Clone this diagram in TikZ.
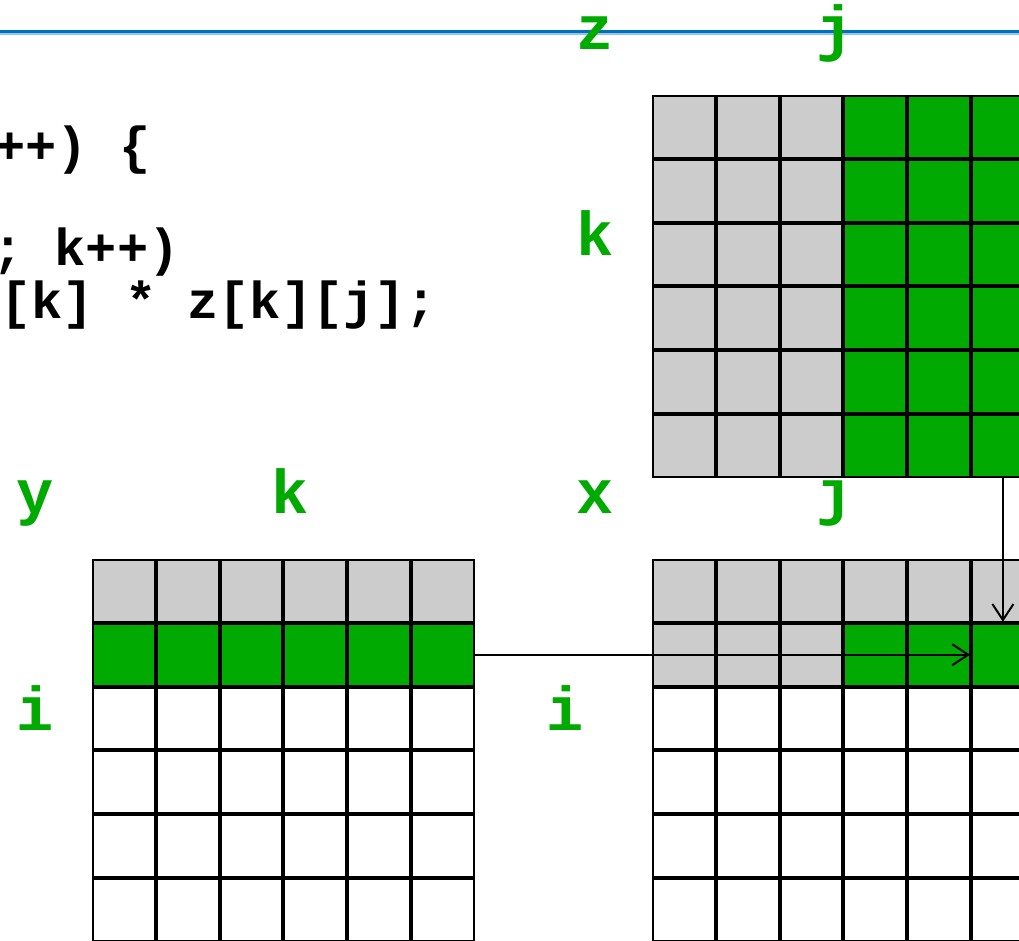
\documentclass[tikz,border=0pt]{standalone}
\usepackage{fontspec}
\setmonofont{Liberation Mono}
\usetikzlibrary{arrows.meta}
\definecolor{cellgreen}{RGB}{0,170,0}
\definecolor{cellgray}{RGB}{204,204,204}
\definecolor{rulecol}{RGB}{0,112,192}
\definecolor{rulelight}{RGB}{150,195,235}
\begin{document}
\begin{tikzpicture}[x=1pt,y=-1pt,
  cell/.style={draw=black, line width=2pt, minimum size=61.7pt, inner sep=0pt, outer sep=0pt},
  code/.style={font=\ttfamily\bfseries\fontsize{52}{52}\selectfont, anchor=base west, inner sep=0pt},
  lab/.style={font=\ttfamily\bfseries\fontsize{62}{62}\selectfont, text=cellgreen, anchor=base, inner sep=0pt},
  arr/.style={line width=2pt, shorten >=2pt, -{Straight Barb[length=16pt,width=21pt]}}
]
\useasboundingbox (0,0) rectangle (1019,940);
\clip (0,0) rectangle (1019,940);
\fill[white] (0,0) rectangle (1019,940);
% top rule
\draw[rulelight, line width=1.8pt] (0,33.6) -- (1019,33.6);
\draw[rulecol, line width=2.6pt] (0,31.2) -- (1019,31.2);
% code
\node[code] (c1) at (-6,163) {++) \{};
\node[code] (c2) at (-8,265) {; k++)};
\node[code] (c3) at (0,318) {[k] * z[k][j];};
% labels
\node[lab] (lz) at (595,49) {z};
\node[lab] (lj1) at (835,49) {j};
\node[lab] (lk1) at (595,255) {k};
\node[lab] (ly) at (35,513) {y};
\node[lab] (lk2) at (290,513) {k};
\node[lab] (lx) at (595,513) {x};
\node[lab] (lj2) at (835,513) {j};
\node[lab] (li1) at (35,730) {i};
\node[lab] (li2) at (565,730) {i};
% z grid
\foreach \r in {1,...,6} {
  \foreach \c in {1,...,6} {
    \ifnum\c<4 \def\fc{cellgray}\else\def\fc{cellgreen}\fi
    \node[cell, fill=\fc] (z-\r-\c) at ({652+(\c-0.5)*63.8},{95+(\r-0.5)*63.8}) {};
  }
}
% y grid
\foreach \r in {1,...,6} {
  \foreach \c in {1,...,6} {
    \ifnum\r=1 \def\fc{cellgray}\else\ifnum\r=2 \def\fc{cellgreen}\else\def\fc{white}\fi\fi
    \node[cell, fill=\fc] (y-\r-\c) at ({92+(\c-0.5)*63.8},{559+(\r-0.5)*63.8}) {};
  }
}
% x grid
\foreach \r in {1,...,6} {
  \foreach \c in {1,...,6} {
    \ifnum\r=1 \def\fc{cellgray}\else\ifnum\r=2 \ifnum\c<4 \def\fc{cellgray}\else\def\fc{cellgreen}\fi\else\def\fc{white}\fi\fi
    \node[cell, fill=\fc] (x-\r-\c) at ({652+(\c-0.5)*63.8},{559+(\r-0.5)*63.8}) {};
  }
}
% arrows
\draw[arr] (y-2-6.east) -- (x-2-6.west);
\draw[arr] (z-6-6.south) -- (x-2-6.north);
\end{tikzpicture}
\end{document}
